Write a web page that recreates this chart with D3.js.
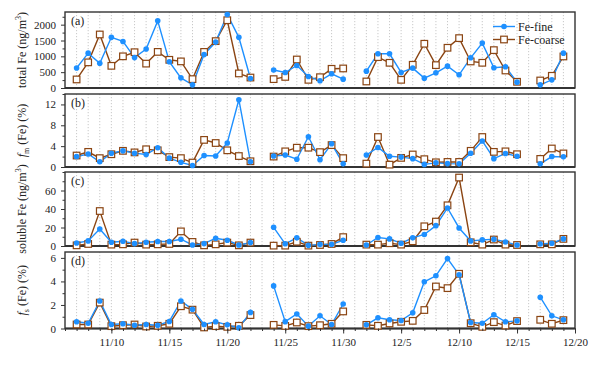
<!DOCTYPE html>
<html><head><meta charset="utf-8">
<script src="https://cdn.jsdelivr.net/npm/d3@7"></script>
<style>
body{margin:0;background:#fff;}
svg text{font-family:"Liberation Serif","Times New Roman","DejaVu Serif",serif !important;fill:#222;}
</style></head>
<body><svg id="chart" width="600" height="365" font-family="Liberation Serif, serif"></svg>
<script>
const dates = ["11/7","11/8","11/9","11/10","11/11","11/12","11/13","11/14","11/15","11/16","11/17","11/18","11/19","11/20","11/21","11/22",
 "11/24","11/25","11/26","11/27","11/28","11/29","11/30",
 "12/2","12/3","12/4","12/5","12/6","12/7","12/8","12/9","12/10","12/11","12/12","12/13","12/14","12/15",
 "12/17","12/18","12/19"];
const tickLabels = ["11/10","11/15","11/20","11/25","11/30","12/5","12/10","12/15","12/20"];
const xStart = "11/6", xEnd = "12/20";
const seriesNames = ["Fe-fine","Fe-coarse"];

const totalFeFine = [630,1100,780,1600,1470,960,1230,2120,830,320,100,1060,1450,2320,1600,300,
 570,490,710,363,227,448,279,
 532,1080,1080,490,627,311,480,690,417,954,1418,638,670,184,
 100,258,1100];
const totalFeCoarse = [270,810,1690,700,1000,1130,770,1140,890,840,280,1140,1480,2140,460,330,
 280,350,900,258,341,606,617,
 206,975,796,258,733,1397,722,1270,1575,838,796,1196,553,196,
 237,385,996];
const fmFine = [2.0,2.5,1.0,2.65,3.1,2.65,2.4,3.7,1.7,0.9,0.3,2.2,2.1,4.6,12.9,1.0,
 2.1,2.3,1.5,5.8,1.4,4.45,0.6,
 2.3,3.75,2.05,1.9,1.6,0.5,0.8,0.65,0.6,2.65,5.0,1.6,2.6,2.05,
 0.6,2.0,1.95];
const fmCoarse = [2.2,2.9,1.7,2.45,3.1,2.8,3.4,3.2,1.9,1.7,0.85,5.2,4.6,3.2,2.1,1.1,
 2.0,3.0,3.7,3.7,2.85,4.2,1.7,
 0.65,5.75,0.45,1.75,2.4,1.5,0.9,0.97,0.97,3.1,5.75,2.9,3.0,2.45,
 1.55,3.55,2.6];
const solFine = [3.3,5.5,18.3,4.0,5.1,2.6,4.0,4.8,4.8,7.3,1.1,2.6,8.4,6.2,1.1,3.7,
 20.2,2.4,8.8,0.7,1.8,1.8,6.2,
 1.1,9.2,7.7,3.0,8.8,12.5,22,41.1,19.5,5.5,6.6,7.3,4.4,1.1,
 2.2,3.0,7.7];
const solCoarse = [0.7,2.2,37.8,1.5,1.8,3.7,1.5,1.8,2.2,15.8,4.4,0.7,1.8,3.7,0.7,3.7,
 0.4,0.4,4.6,0.4,1.1,2.2,9.6,
 1.5,1.5,3.0,1.5,5.1,21.3,26.4,44,74,4.0,1.5,7.0,1.5,1.1,
 1.8,1.8,7.7];
const fsFine = [0.57,0.45,2.34,0.34,0.4,0.28,0.34,0.28,0.6,2.34,1.63,0.34,0.57,0.31,0.06,1.37,
 3.62,0.58,1.23,0.2,1.08,0.34,2.08,
 0.31,0.91,0.74,0.68,1.34,3.97,4.48,5.94,4.57,0.51,0.45,1.17,0.57,0.65,
 2.66,1.08,0.74];
const fsCoarse = [0.34,0.34,2.2,0.2,0.28,0.34,0.17,0.23,0.4,1.89,1.6,0.09,0.2,0.14,0.23,1.14,
 0.31,0.22,0.51,0.2,0.28,0.4,1.45,
 0.31,0.23,0.43,0.57,0.65,1.57,3.57,3.43,4.65,0.45,0.14,0.54,0.25,0.63,
 0.74,0.4,0.71];

const FONT = "Liberation Serif, Times New Roman, serif";
const parse = s => d3.timeParse("%m/%d")(s);
const X0 = 65, X1 = 575;
const x = d3.scaleTime().domain([parse(xStart), parse(xEnd)]).range([X0, X1]);
const colFine = "#1E90FF", colCoarse = "#8B4513";

const panels = [
  {label:"(a)", top:12, bottom:88, domain:[0,2400], ticks:[0,500,1000,1500,2000], minor:250, fine:totalFeFine, coarse:totalFeCoarse, ylab:"a"},
  {label:"(b)", top:94, bottom:167, domain:[0,14], ticks:[0,4,8,12], minor:2, fine:fmFine, coarse:fmCoarse, ylab:"b"},
  {label:"(c)", top:172, bottom:246, domain:[0,80], ticks:[0,20,40,60], minor:10, fine:solFine, coarse:solCoarse, ylab:"c"},
  {label:"(d)", top:252, bottom:328.5, domain:[0,6.5], ticks:[0,2,4,6], minor:1, fine:fsFine, coarse:fsCoarse, ylab:"d"}
];

const svg = d3.select("#chart");
const allDays = d3.timeDay.range(d3.timeDay.offset(parse(xStart),1), parse(xEnd));

function segments(vals){
  const segs=[]; let cur=[];
  dates.forEach((d,i)=>{
    const t=parse(d);
    if(cur.length && d3.timeDay.count(cur[cur.length-1].t,t)>1){segs.push(cur);cur=[];}
    cur.push({t,v:vals[i]});
  });
  if(cur.length) segs.push(cur);
  return segs;
}

panels.forEach((p,pi)=>{
  const y = d3.scaleLinear().domain(p.domain).range([p.bottom,p.top]);
  const g = svg.append("g");
  g.selectAll("line.grid").data(allDays).join("line")
    .attr("x1",d=>x(d)).attr("x2",d=>x(d)).attr("y1",p.top).attr("y2",p.bottom)
    .attr("stroke","#bbb").attr("stroke-width",0.8).attr("stroke-dasharray","1.2,1.8");
  const minorVals = d3.range(p.domain[0], p.domain[1]+1e-9, p.minor).filter(v=>!p.ticks.includes(v));
  g.append("g").attr("transform",`translate(${X0},0)`)
    .call(d3.axisLeft(y).tickValues(minorVals).tickSize(2.5).tickFormat(""))
    .call(a=>a.select(".domain").remove())
    .call(a=>a.selectAll("line").attr("stroke","#333"));
  g.append("g").attr("transform",`translate(${X0},0)`)
    .call(d3.axisLeft(y).tickValues(p.ticks).tickSize(4).tickPadding(5).tickFormat(d3.format("d")))
    .attr("font-family",FONT).attr("font-size",11)
    .call(a=>a.select(".domain").remove())
    .call(a=>a.selectAll("line").attr("stroke","#333"))
    .call(a=>a.selectAll("text").attr("fill","#222"));
  g.append("rect").attr("x",X0).attr("y",p.top).attr("width",X1-X0).attr("height",p.bottom-p.top)
    .attr("fill","none").attr("stroke","#333").attr("stroke-width",1.4);
  g.append("line").attr("x1",X0).attr("x2",X1).attr("y1",p.bottom).attr("y2",p.bottom)
    .attr("stroke","#333").attr("stroke-width",2);
  const line = d3.line().x(d=>x(d.t)).y(d=>y(d.v));
  [[p.coarse,colCoarse],[p.fine,colFine]].forEach(([vals,col])=>{
    segments(vals).forEach(s=>{
      g.append("path").attr("d",line(s)).attr("fill","none").attr("stroke",col).attr("stroke-width",1.4);
    });
  });
  g.selectAll("rect.mc").data(dates.map((d,i)=>({t:parse(d),v:p.coarse[i]}))).join("rect")
    .attr("x",d=>x(d.t)-3.3).attr("y",d=>y(d.v)-3.3).attr("width",6.6).attr("height",6.6)
    .attr("fill","#fff").attr("stroke",colCoarse).attr("stroke-width",1.2);
  g.selectAll("circle.mf").data(dates.map((d,i)=>({t:parse(d),v:p.fine[i]}))).join("circle")
    .attr("cx",d=>x(d.t)).attr("cy",d=>y(d.v)).attr("r",2.8).attr("fill",colFine);
  g.append("text").attr("x",X0+6).attr("y",p.top+13).attr("font-family",FONT).attr("font-size",12).text(p.label);
  const cy=(p.top+p.bottom)/2;
  const t = g.append("text").attr("transform",`translate(26,${cy}) rotate(-90)`)
    .attr("text-anchor","middle").attr("font-family",FONT).attr("font-size",12);
  if(p.ylab==="a"||p.ylab==="c"){
    t.append("tspan").text(p.ylab==="a"?"total Fe  (ng/m":"soluble Fe  (ng/m");
    t.append("tspan").attr("dy",-5).attr("font-size",8).text("3");
    t.append("tspan").attr("dy",5).text(")");
  } else {
    t.append("tspan").attr("font-style","italic").text("f");
    t.append("tspan").attr("dy",3).attr("font-size",8).text(p.ylab==="b"?"m":"s");
    t.append("tspan").attr("dy",-3).text(" (Fe) (%)");
  }
  if(pi===3){
    g.append("g").attr("transform",`translate(0,${p.bottom})`)
      .call(d3.axisBottom(x).ticks(d3.timeDay.every(1)).tickSize(2.5).tickFormat(""))
      .call(a=>a.select(".domain").remove()).call(a=>a.selectAll("line").attr("stroke","#333"));
    g.append("g").attr("transform",`translate(0,${p.bottom})`)
      .call(d3.axisBottom(x).tickValues(tickLabels.map(parse)).tickSize(5).tickPadding(5).tickFormat(d3.timeFormat("%-m/%-d")))
      .attr("font-family",FONT).attr("font-size",11)
      .call(a=>a.select(".domain").remove()).call(a=>a.selectAll("line").attr("stroke","#333"))
      .call(a=>a.selectAll("text").attr("fill","#222"));
  }
});

const lg = svg.append("g");
[[seriesNames[0],colFine,26.5],[seriesNames[1],colCoarse,39.5]].forEach(([n,c,yy],i)=>{
  lg.append("line").attr("x1",493).attr("x2",515).attr("y1",yy).attr("y2",yy).attr("stroke",c).attr("stroke-width",1.4);
  if(i===0) lg.append("circle").attr("cx",504).attr("cy",yy).attr("r",2.8).attr("fill",c);
  else lg.append("rect").attr("x",504-3.3).attr("y",yy-3.3).attr("width",6.6).attr("height",6.6).attr("fill","#fff").attr("stroke",c).attr("stroke-width",1.2);
  lg.append("text").attr("x",518).attr("y",yy+4).attr("font-family",FONT).attr("font-size",12).text(n);
});
</script></body></html>
